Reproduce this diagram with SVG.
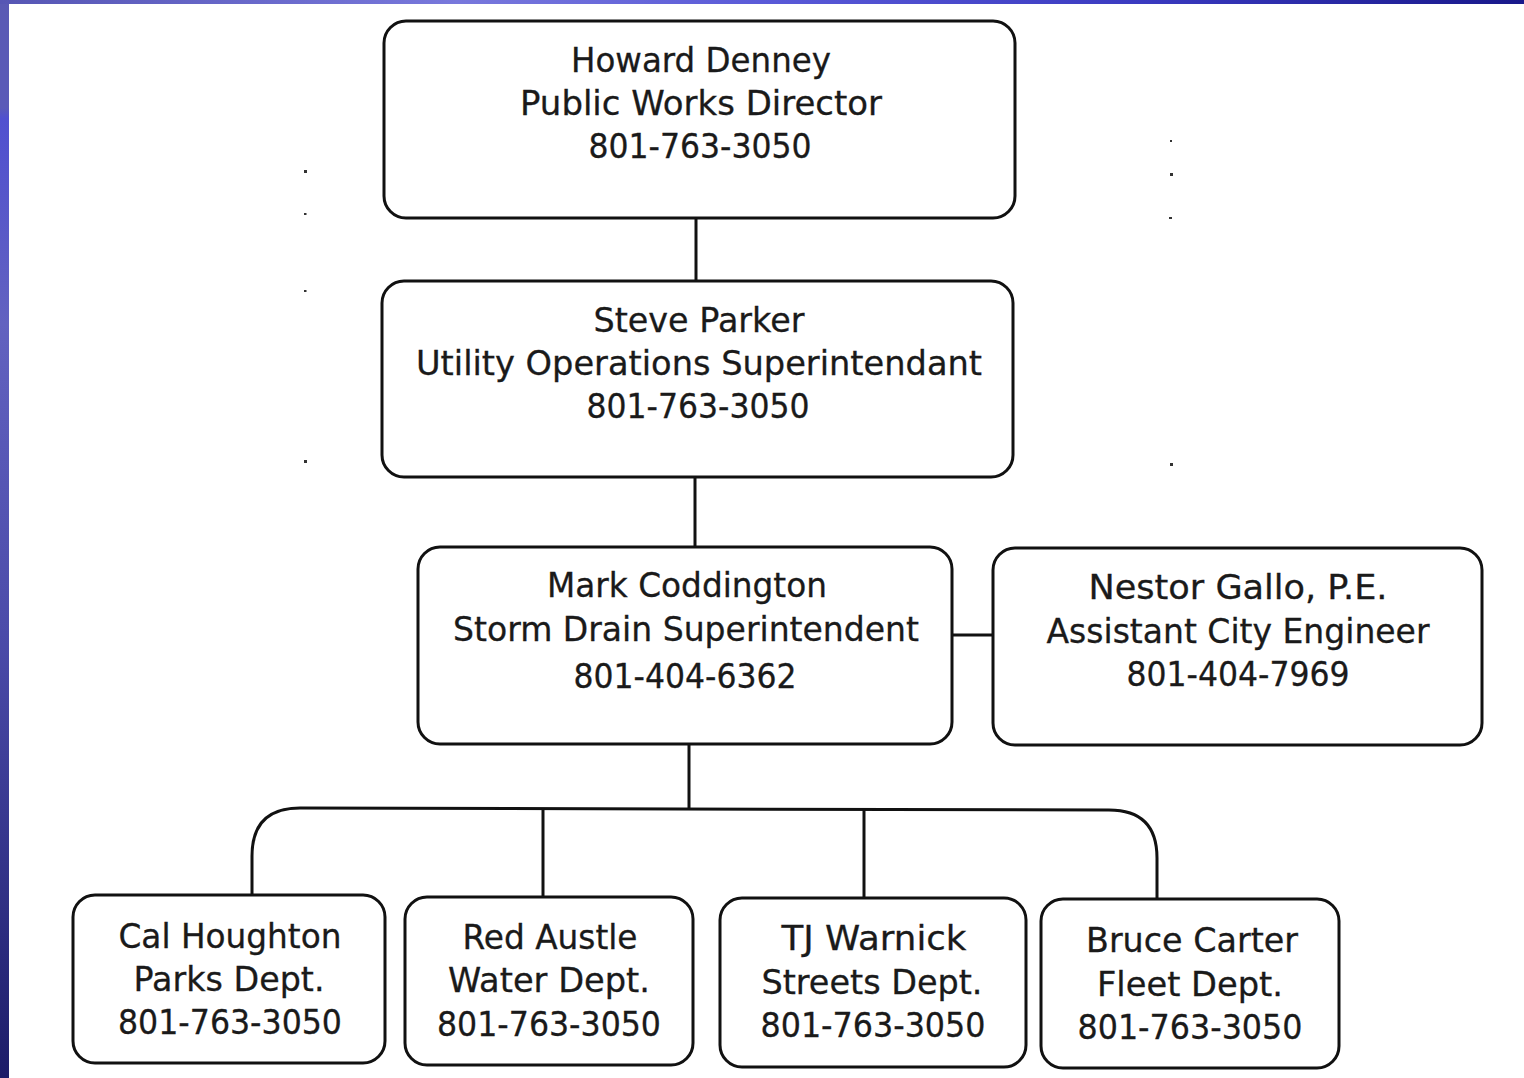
<svg xmlns="http://www.w3.org/2000/svg" width="1524" height="1078" viewBox="0 0 1524 1078">
  <defs>
    <linearGradient id="leftBar" x1="0" y1="0" x2="0" y2="1">
      <stop offset="0" stop-color="#5a5ab4"/>
      <stop offset="0.1" stop-color="#5a5ab8"/>
      <stop offset="0.11" stop-color="#5050d0"/>
      <stop offset="0.3" stop-color="#6262c0"/>
      <stop offset="0.6" stop-color="#4a4aa8"/>
      <stop offset="0.85" stop-color="#2e2e82"/>
      <stop offset="1" stop-color="#1c1c68"/>
    </linearGradient>
    <linearGradient id="topBar" x1="0" y1="0" x2="1" y2="0">
      <stop offset="0" stop-color="#5656b4"/>
      <stop offset="0.3" stop-color="#7878dc"/>
      <stop offset="0.5" stop-color="#5a5ad8"/>
      <stop offset="0.75" stop-color="#3a3ac0"/>
      <stop offset="1" stop-color="#18188a"/>
    </linearGradient>
  </defs>
  <style>
    .box { fill: #ffffff; stroke: #111111; stroke-width: 3; }
    .conn { fill: none; stroke: #111111; stroke-width: 3; }
    text { font-family: "DejaVu Sans", sans-serif; font-size: 33px; fill: #1a1a1a; text-anchor: middle; stroke: #1a1a1a; stroke-width: 0.3; }
    .dot { fill: #333333; }
  </style>
  <rect x="0" y="0" width="1524" height="1078" fill="#ffffff"/>
  <rect x="0" y="0" width="9" height="1078" fill="url(#leftBar)"/>
  <rect x="0" y="0" width="1524" height="4" fill="url(#topBar)"/>

  <g id="dots">
    <rect class="dot" x="304" y="170" width="3" height="3"/>
    <rect class="dot" x="304" y="213" width="2.5" height="2"/>
    <rect class="dot" x="304" y="290" width="2.5" height="2"/>
    <rect class="dot" x="304" y="460" width="3" height="3"/>
    <rect class="dot" x="1170" y="140" width="2" height="2"/>
    <rect class="dot" x="1170" y="173" width="3" height="3"/>
    <rect class="dot" x="1169" y="217" width="3" height="2"/>
    <rect class="dot" x="1170" y="463" width="3" height="3"/>
  </g>

  <g id="connectors">
    <line class="conn" x1="696" y1="218" x2="696" y2="281"/>
    <line class="conn" x1="695" y1="477" x2="695" y2="547"/>
    <line class="conn" x1="952" y1="635" x2="993" y2="635"/>
    <line class="conn" x1="689" y1="744" x2="689" y2="808"/>
    <path class="conn" d="M252,895 L252,856 Q252,808 300,808 L1109,810 Q1157,810 1157,858 L1157,899"/>
    <line class="conn" x1="543" y1="808" x2="543" y2="897"/>
    <line class="conn" x1="864" y1="809" x2="864" y2="898"/>
  </g>

  <g id="howard">
    <rect class="box" x="384" y="21" width="631" height="197" rx="22"/>
    <text x="701" y="72" textLength="260" lengthAdjust="spacingAndGlyphs">Howard Denney</text>
    <text x="701" y="115" textLength="362" lengthAdjust="spacingAndGlyphs">Public Works Director</text>
    <text x="700" y="158" textLength="223" lengthAdjust="spacingAndGlyphs">801-763-3050</text>
  </g>

  <g id="steve">
    <rect class="box" x="382" y="281" width="631" height="196" rx="22"/>
    <text x="699" y="332" textLength="211" lengthAdjust="spacingAndGlyphs">Steve Parker</text>
    <text x="699" y="375" textLength="566" lengthAdjust="spacingAndGlyphs">Utility Operations Superintendant</text>
    <text x="698" y="418" textLength="223" lengthAdjust="spacingAndGlyphs">801-763-3050</text>
  </g>

  <g id="mark">
    <rect class="box" x="418" y="547" width="534" height="197" rx="22"/>
    <text x="687" y="597" textLength="280" lengthAdjust="spacingAndGlyphs">Mark Coddington</text>
    <text x="686" y="641" textLength="466" lengthAdjust="spacingAndGlyphs">Storm Drain Superintendent</text>
    <text x="685" y="688" textLength="223" lengthAdjust="spacingAndGlyphs">801-404-6362</text>
  </g>

  <g id="nestor">
    <rect class="box" x="993" y="548" width="489" height="197" rx="22"/>
    <text x="1238" y="599" textLength="299" lengthAdjust="spacingAndGlyphs">Nestor Gallo, P.E.</text>
    <text x="1238" y="643" textLength="383" lengthAdjust="spacingAndGlyphs">Assistant City Engineer</text>
    <text x="1238" y="686" textLength="223" lengthAdjust="spacingAndGlyphs">801-404-7969</text>
  </g>

  <g id="cal">
    <rect class="box" x="73" y="895" width="312" height="168" rx="22"/>
    <text x="230" y="948" textLength="223" lengthAdjust="spacingAndGlyphs">Cal Houghton</text>
    <text x="229" y="991" textLength="191" lengthAdjust="spacingAndGlyphs">Parks Dept.</text>
    <text x="230" y="1034" textLength="224" lengthAdjust="spacingAndGlyphs">801-763-3050</text>
  </g>

  <g id="red">
    <rect class="box" x="405" y="897" width="288" height="168" rx="22"/>
    <text x="550" y="949" textLength="175" lengthAdjust="spacingAndGlyphs">Red Austle</text>
    <text x="549" y="992" textLength="202" lengthAdjust="spacingAndGlyphs">Water Dept.</text>
    <text x="549" y="1036" textLength="224" lengthAdjust="spacingAndGlyphs">801-763-3050</text>
  </g>

  <g id="tj">
    <rect class="box" x="720" y="898" width="306" height="169" rx="22"/>
    <text x="874" y="950" textLength="185" lengthAdjust="spacingAndGlyphs">TJ Warnick</text>
    <text x="872" y="994" textLength="221" lengthAdjust="spacingAndGlyphs">Streets Dept.</text>
    <text x="873" y="1037" textLength="225" lengthAdjust="spacingAndGlyphs">801-763-3050</text>
  </g>

  <g id="bruce">
    <rect class="box" x="1041" y="899" width="298" height="169" rx="22"/>
    <text x="1192" y="952" textLength="212" lengthAdjust="spacingAndGlyphs">Bruce Carter</text>
    <text x="1190" y="996" textLength="186" lengthAdjust="spacingAndGlyphs">Fleet Dept.</text>
    <text x="1190" y="1039" textLength="225" lengthAdjust="spacingAndGlyphs">801-763-3050</text>
  </g>
</svg>
